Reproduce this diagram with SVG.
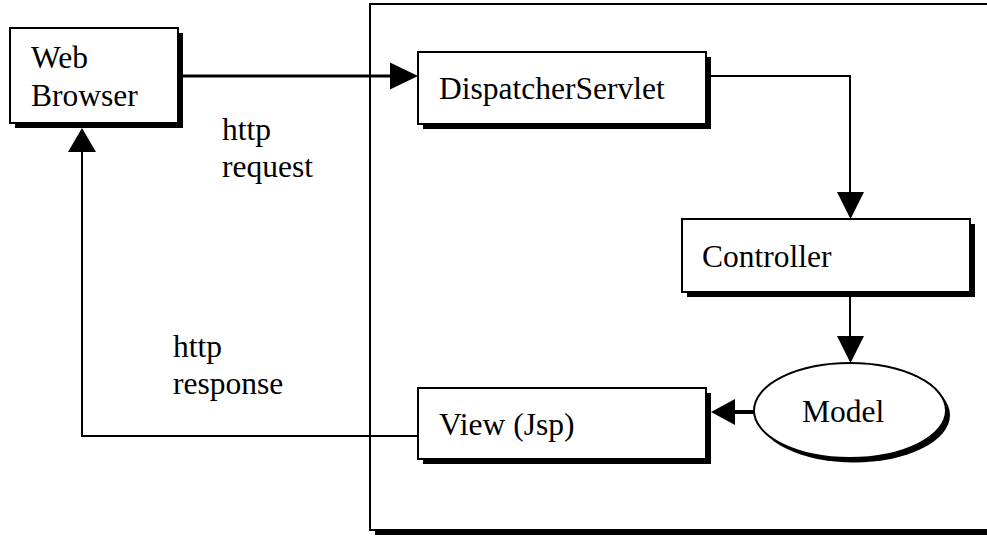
<svg xmlns="http://www.w3.org/2000/svg" width="987" height="536" viewBox="0 0 987 536">
<style>
  .box{fill:#fff;stroke:#000;stroke-width:2}
  .shadow{fill:#000;stroke:none}
  .lbl{font-family:"Liberation Serif","Times New Roman",serif;font-size:31.5px;fill:#000}
  .ln{fill:none;stroke:#000;stroke-width:2}
  .head{fill:#000;stroke:none}
</style>
<rect width="987" height="536" fill="#fff"/>

<g id="container">
  <rect class="shadow" x="375" y="9" width="700" height="526"/>
  <rect class="box" x="370" y="4" width="700" height="526"/>
</g>

<g id="web-browser">
  <rect class="shadow" x="15" y="33" width="168" height="95"/>
  <rect class="box" x="10" y="28" width="168" height="95"/>
  <text class="lbl" x="31" y="68">Web</text>
  <text class="lbl" x="31" y="106">Browser</text>
</g>

<g id="dispatcher-servlet">
  <rect class="shadow" x="423" y="57" width="288" height="72"/>
  <rect class="box" x="418" y="52" width="288" height="72"/>
  <text class="lbl" x="439" y="99">DispatcherServlet</text>
</g>

<g id="controller">
  <rect class="shadow" x="687" y="224" width="288" height="73"/>
  <rect class="box" x="682" y="219" width="288" height="73"/>
  <text class="lbl" x="702" y="267">Controller</text>
</g>

<g id="model">
  <ellipse class="shadow" cx="854" cy="415" rx="96" ry="47.5"/>
  <ellipse class="box" cx="850" cy="410.5" rx="96" ry="47.5"/>
  <text class="lbl" x="802" y="422">Model</text>
</g>

<g id="view">
  <rect class="shadow" x="423" y="393" width="288" height="71"/>
  <rect class="box" x="418" y="388" width="288" height="71"/>
  <text class="lbl" x="439" y="435">View (Jsp)</text>
</g>

<g id="connectors">
  <line class="ln" x1="178" y1="76" x2="392" y2="76" style="stroke-width:3"/>
  <polygon class="head" points="390,62.5 418,76 390,89.5"/>

  <polyline class="ln" points="706,76 850,76 850,194"/>
  <polygon class="head" points="837,192 864,192 850.5,219"/>

  <line class="ln" x1="850" y1="297" x2="850" y2="338"/>
  <polygon class="head" points="837,336 864,336 850.5,363"/>

  <line class="ln" x1="754" y1="412" x2="732" y2="412" style="stroke-width:4"/>
  <polygon class="head" points="735,399 735,425 711,412"/>

  <polyline class="ln" points="418,436 82,436 82,150"/>
  <polygon class="head" points="68,152 96,152 82,128"/>

  <text class="lbl" x="222" y="140">http</text>
  <text class="lbl" x="222" y="177">request</text>
  <text class="lbl" x="173" y="357">http</text>
  <text class="lbl" x="173" y="394">response</text>
</g>
</svg>
